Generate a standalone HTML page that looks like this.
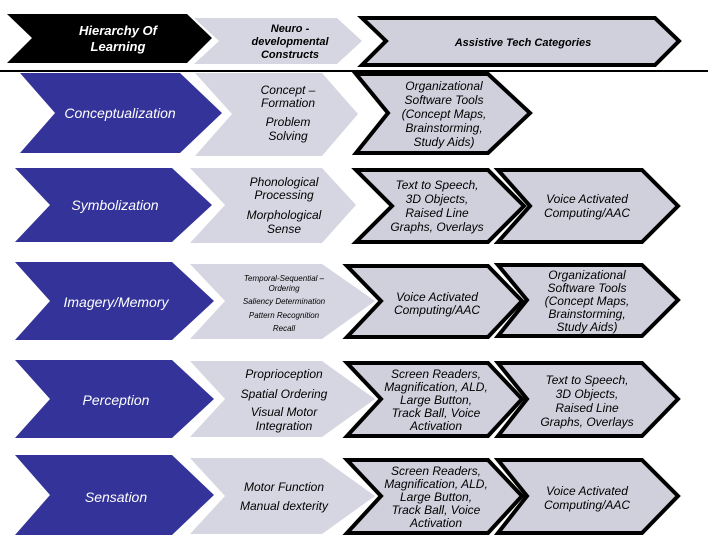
<!DOCTYPE html>
<html><head><style>
body{margin:0;background:#fff}
svg{display:block}
text{font-family:"Liberation Sans",sans-serif;font-style:italic;text-anchor:middle}
</style></head><body>
<svg width="720" height="540" viewBox="0 0 720 540">
<polygon points="7,14 187,14 212,38 187,63 7,63 32,38" fill="#000"/>
<polygon points="194,18 337,18 362,41 337,64 194,64 219,41" fill="#d6d6e2"/>
<polygon points="362,18 655,18 679,41 655,65 362,65 386,41" fill="#d0d0dc" stroke="#000" stroke-width="4"/>
<text x="118" y="35" fill="#fff" font-size="13" font-weight="bold">Hierarchy Of</text>
<text x="118" y="51" fill="#fff" font-size="13" font-weight="bold">Learning</text>
<text x="290" y="32" font-size="11" font-weight="bold">Neuro -</text>
<text x="290" y="45" font-size="11" font-weight="bold">developmental</text>
<text x="290" y="58" font-size="11" font-weight="bold">Constructs</text>
<text x="523" y="46" font-size="11" font-weight="bold">Assistive Tech Categories</text>
<line x1="0" y1="71" x2="708" y2="71" stroke="#000" stroke-width="2"/>

<g fill="#333399">
<polygon points="20,73 180,73 222,113 180,153 20,153 55,113"/>
<polygon points="15,168 172,168 212,205 172,242 15,242 50,205"/>
<polygon points="15,262 172,262 214,301 172,340 15,340 50,301"/>
<polygon points="15,360 172,360 214,399 172,438 15,438 50,399"/>
<polygon points="15,455 172,455 214,495 172,535 15,535 50,495"/>
</g>
<g fill="#d6d6e2">
<polygon points="195,73 322,73 358,114 322,156 195,156 232,114"/>
<polygon points="190,168 322,168 356,205 322,243 190,243 225,205"/>
<polygon points="190,264 322,264 375,301 322,339 190,339 225,301"/>
<polygon points="190,361 322,361 375,399 322,437 190,437 225,399"/>
<polygon points="190,458 322,458 375,496 322,534 190,534 225,496"/>
</g>
<g fill="#d0d0dc" stroke="#000" stroke-width="4">
<polygon points="356,74 488,74 530,113 488,153 356,153 388,113"/>
<polygon points="356,170 488,170 524,206 488,242 356,242 392,206"/>
<polygon points="498,170 642,170 678,206 642,242 498,242 530,206"/>
<polygon points="347,266 488,266 522,301 488,337 347,337 381,301"/>
<polygon points="498,265 642,265 678,300 642,336 498,336 527,300"/>
<polygon points="347,363 488,363 522,399 488,436 347,436 381,399"/>
<polygon points="498,363 642,363 678,399 642,436 498,436 527,399"/>
<polygon points="347,460 488,460 522,496 488,533 347,533 381,496"/>
<polygon points="498,460 642,460 678,496 642,533 498,533 527,496"/>
</g>

<g fill="#fff" font-size="14">
<text x="120" y="118">Conceptualization</text>
<text x="115" y="210">Symbolization</text>
<text x="116" y="307">Imagery/Memory</text>
<text x="116" y="405">Perception</text>
<text x="116" y="502">Sensation</text>
</g>

<g font-size="12">
<text x="288" y="94">Concept –</text>
<text x="288" y="107">Formation</text>
<text x="288" y="126">Problem</text>
<text x="288" y="140">Solving</text>
<text x="284" y="186">Phonological</text>
<text x="284" y="199">Processing</text>
<text x="284" y="219">Morphological</text>
<text x="284" y="233">Sense</text>
<text x="284" y="378">Proprioception</text>
<text x="284" y="398">Spatial Ordering</text>
<text x="284" y="416">Visual Motor</text>
<text x="284" y="430">Integration</text>
<text x="284" y="491">Motor Function</text>
<text x="284" y="510">Manual dexterity</text>
</g>
<g font-size="8">
<text x="284" y="281">Temporal-Sequential –</text>
<text x="284" y="291">Ordering</text>
<text x="284" y="304">Saliency  Determination</text>
<text x="284" y="318">Pattern Recognition</text>
<text x="284" y="331">Recall</text>
</g>

<g font-size="12">
<text x="444" y="90">Organizational</text>
<text x="444" y="104">Software Tools</text>
<text x="444" y="118">(Concept Maps,</text>
<text x="444" y="132">Brainstorming,</text>
<text x="444" y="146">Study Aids)</text>
<text x="437" y="189">Text to Speech,</text>
<text x="437" y="203">3D Objects,</text>
<text x="437" y="217">Raised Line</text>
<text x="437" y="231">Graphs, Overlays</text>
<text x="587" y="203">Voice Activated</text>
<text x="587" y="217">Computing/AAC</text>
<text x="437" y="301">Voice Activated</text>
<text x="437" y="314">Computing/AAC</text>
<text x="587" y="279">Organizational</text>
<text x="587" y="292">Software Tools</text>
<text x="587" y="305">(Concept Maps,</text>
<text x="587" y="318">Brainstorming,</text>
<text x="587" y="331">Study Aids)</text>
<text x="436" y="378">Screen Readers,</text>
<text x="436" y="391">Magnification, ALD,</text>
<text x="436" y="404">Large Button,</text>
<text x="436" y="417">Track Ball, Voice</text>
<text x="436" y="430">Activation</text>
<text x="587" y="384">Text to Speech,</text>
<text x="587" y="398">3D Objects,</text>
<text x="587" y="412">Raised Line</text>
<text x="587" y="426">Graphs, Overlays</text>
<text x="436" y="475">Screen Readers,</text>
<text x="436" y="488">Magnification, ALD,</text>
<text x="436" y="501">Large Button,</text>
<text x="436" y="514">Track Ball, Voice</text>
<text x="436" y="527">Activation</text>
<text x="587" y="495">Voice Activated</text>
<text x="587" y="509">Computing/AAC</text>
</g>
</svg>
</body></html>
